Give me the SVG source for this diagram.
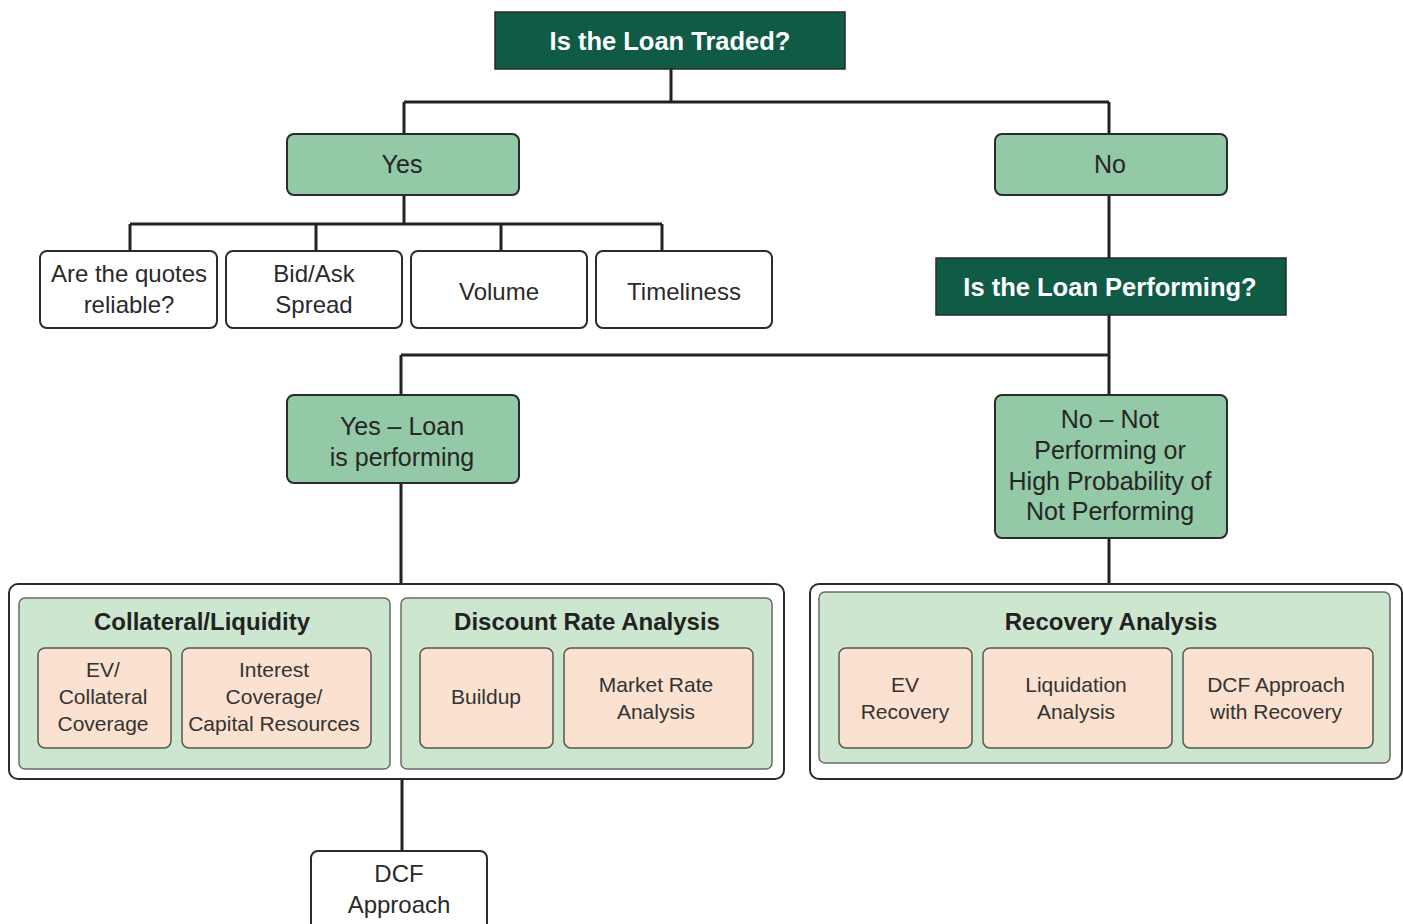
<svg xmlns="http://www.w3.org/2000/svg" width="1403" height="924" viewBox="0 0 1403 924">
  <style>
    .q { fill: #0f5b46; stroke: #2a2a2a; stroke-width: 1.5; }
    .qt { font-family: "Liberation Sans", Arial, sans-serif; font-weight: bold; font-size: 25.5px; fill: #ffffff; text-anchor: middle; }
    .g { fill: #93c9a7; stroke: #2b2b2b; stroke-width: 2; }
    .gt { font-family: "Liberation Sans", Arial, sans-serif; font-size: 25px; fill: #262626; text-anchor: middle; }
    .w { fill: #ffffff; stroke: #2b2b2b; stroke-width: 2; }
    .wt { font-family: "Liberation Sans", Arial, sans-serif; font-size: 24px; fill: #2a2a2a; text-anchor: middle; }
    .panel { fill: #cde6cf; stroke: #6a6a6a; stroke-width: 1.5; }
    .pt { font-family: "Liberation Sans", Arial, sans-serif; font-weight: bold; font-size: 24px; fill: #222222; text-anchor: middle; }
    .p { fill: #fbe1cf; stroke: #555555; stroke-width: 1.5; }
    .ptx { font-family: "Liberation Sans", Arial, sans-serif; font-size: 21px; fill: #333333; text-anchor: middle; }
    .c { fill: none; stroke: #222222; stroke-width: 3; }
  </style>

  <!-- connectors -->
  <g id="connectors">
    <path class="c" d="M671 69 V102 M404 102 H1109 M404 102 V134 M1109 102 V134"/>
    <path class="c" d="M404 195 V224 M130 224 H662 M130 224 V251 M316 224 V251 M501 224 V251 M662 224 V251"/>
    <path class="c" d="M1109 195 V258"/>
    <path class="c" d="M1109 315 V395 M401 355 H1109 M401 355 V395"/>
    <path class="c" d="M401 483 V584"/>
    <path class="c" d="M1109 538 V584"/>
    <path class="c" d="M402 779 V851"/>
  </g>

  <g id="loan-traded">
    <rect class="q" x="495" y="12" width="350" height="57"/>
    <text class="qt" x="670" y="50">Is the Loan Traded?</text>
  </g>

  <g id="yes">
    <rect class="g" x="287" y="134" width="232" height="61" rx="7"/>
    <text class="gt" x="402" y="173">Yes</text>
  </g>

  <g id="no">
    <rect class="g" x="995" y="134" width="232" height="61" rx="7"/>
    <text class="gt" x="1110" y="173">No</text>
  </g>

  <g id="quotes-reliable">
    <rect class="w" x="40" y="251" width="177" height="77" rx="7"/>
    <text class="wt" x="129" y="282">Are the quotes</text>
    <text class="wt" x="129" y="313">reliable?</text>
  </g>

  <g id="bid-ask">
    <rect class="w" x="226" y="251" width="176" height="77" rx="7"/>
    <text class="wt" x="314" y="282">Bid/Ask</text>
    <text class="wt" x="314" y="313">Spread</text>
  </g>

  <g id="volume">
    <rect class="w" x="411" y="251" width="176" height="77" rx="7"/>
    <text class="wt" x="499" y="300">Volume</text>
  </g>

  <g id="timeliness">
    <rect class="w" x="596" y="251" width="176" height="77" rx="7"/>
    <text class="wt" x="684" y="300">Timeliness</text>
  </g>

  <g id="loan-performing">
    <rect class="q" x="936" y="258" width="350" height="57"/>
    <text class="qt" x="1110" y="296">Is the Loan Performing?</text>
  </g>

  <g id="yes-performing">
    <rect class="g" x="287" y="395" width="232" height="88" rx="7"/>
    <text class="gt" x="402" y="435">Yes – Loan</text>
    <text class="gt" x="402" y="466">is performing</text>
  </g>

  <g id="no-performing">
    <rect class="g" x="995" y="395" width="232" height="143" rx="7"/>
    <text class="gt" x="1110" y="428">No – Not</text>
    <text class="gt" x="1110" y="459">Performing or</text>
    <text class="gt" x="1110" y="490">High Probability of</text>
    <text class="gt" x="1110" y="520">Not Performing</text>
  </g>

  <g id="performing-analysis">
    <rect class="w" x="9" y="584" width="775" height="195" rx="9"/>
    <g id="collateral-liquidity">
      <rect class="panel" x="19" y="598" width="371" height="171" rx="6"/>
      <text class="pt" x="202" y="630">Collateral/Liquidity</text>
      <rect class="p" x="38" y="648" width="133" height="100" rx="7"/>
      <text class="ptx" x="103" y="677">EV/</text>
      <text class="ptx" x="103" y="704">Collateral</text>
      <text class="ptx" x="103" y="731">Coverage</text>
      <rect class="p" x="182" y="648" width="189" height="100" rx="7"/>
      <text class="ptx" x="274" y="677">Interest</text>
      <text class="ptx" x="274" y="704">Coverage/</text>
      <text class="ptx" x="274" y="731">Capital Resources</text>
    </g>
    <g id="discount-rate">
      <rect class="panel" x="401" y="598" width="371" height="171" rx="6"/>
      <text class="pt" x="587" y="630">Discount Rate Analysis</text>
      <rect class="p" x="420" y="648" width="133" height="100" rx="7"/>
      <text class="ptx" x="486" y="704">Buildup</text>
      <rect class="p" x="564" y="648" width="189" height="100" rx="7"/>
      <text class="ptx" x="656" y="692">Market Rate</text>
      <text class="ptx" x="656" y="719">Analysis</text>
    </g>
  </g>

  <g id="recovery-analysis">
    <rect class="w" x="810" y="584" width="592" height="195" rx="9"/>
    <rect class="panel" x="819" y="592" width="571" height="171" rx="6"/>
    <text class="pt" x="1111" y="630">Recovery Analysis</text>
    <rect class="p" x="839" y="648" width="133" height="100" rx="7"/>
    <text class="ptx" x="905" y="692">EV</text>
    <text class="ptx" x="905" y="719">Recovery</text>
    <rect class="p" x="983" y="648" width="189" height="100" rx="7"/>
    <text class="ptx" x="1076" y="692">Liquidation</text>
    <text class="ptx" x="1076" y="719">Analysis</text>
    <rect class="p" x="1183" y="648" width="190" height="100" rx="7"/>
    <text class="ptx" x="1276" y="692">DCF Approach</text>
    <text class="ptx" x="1276" y="719">with Recovery</text>
  </g>

  <g id="dcf-approach">
    <rect class="w" x="311" y="851" width="176" height="82" rx="7"/>
    <text class="wt" x="399" y="882">DCF</text>
    <text class="wt" x="399" y="913">Approach</text>
  </g>
</svg>
